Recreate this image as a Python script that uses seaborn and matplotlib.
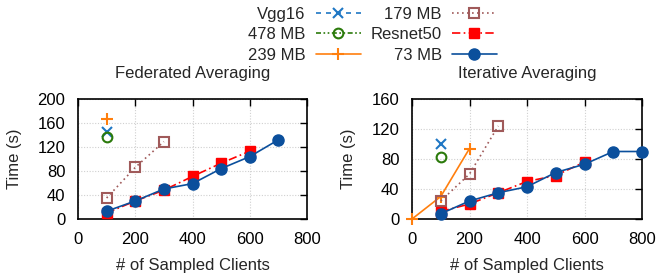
import numpy as np
import pandas as pd
import matplotlib
matplotlib.use("Agg")
import matplotlib.pyplot as plt
import seaborn as sns

sns.set_theme(style="white")
plt.rcParams['font.family'] = ['Liberation Sans', 'DejaVu Sans']

labels = ["Vgg16", "478 MB", "239 MB", "179 MB", "Resnet50", "73 MB"]

# Federated Averaging
fed_x = {
    "Vgg16": [100], "478 MB": [100], "239 MB": [100],
    "179 MB": [100, 200, 300],
    "Resnet50": [100, 200, 300, 400, 500, 600],
    "73 MB": [100, 200, 300, 400, 500, 600, 700],
}
fed_y = {
    "Vgg16": [145], "478 MB": [136], "239 MB": [167],
    "179 MB": [35, 86, 129],
    "Resnet50": [10, 30, 48, 71, 93, 113],
    "73 MB": [13, 30, 50, 59, 84, 104, 132],
}

# Iterative Averaging
it_x = {
    "Vgg16": [100], "478 MB": [100], "239 MB": [0, 100, 200],
    "179 MB": [100, 200, 300],
    "Resnet50": [100, 200, 300, 400, 500, 600],
    "73 MB": [100, 200, 300, 400, 500, 600, 700, 800],
}
it_y = {
    "Vgg16": [100], "478 MB": [83], "239 MB": [0, 30, 94],
    "179 MB": [24, 60, 124],
    "Resnet50": [10, 20, 35, 50, 58, 76],
    "73 MB": [7, 24, 35, 43, 62, 73, 90, 90],
}

styles = {
    "Vgg16": dict(color="#1f77c4", ls=(0, (3, 3)), marker="x", ms=7, mfc="none", mew=1.5),
    "478 MB": dict(color="#2b7a0b", ls=(0, (3, 1.5, 1, 1.5, 1, 1.5)), marker="o", ms=7, mfc="none", mew=1.5),
    "239 MB": dict(color="#ff7f0e", ls="-", marker="+", ms=8, mfc="none", mew=1.5),
    "179 MB": dict(color="#a05a5a", ls=(0, (1, 2)), marker="s", ms=7, mfc="none", mew=1.5),
    "Resnet50": dict(color="#ff0000", ls=(0, (5, 2, 1, 2)), marker="s", ms=7.5, mfc="#ff0000", mew=1),
    "73 MB": dict(color="#0b4f9c", ls="-", marker="o", ms=8, mfc="#0b4f9c", mew=1),
}

fig = plt.figure(figsize=(6.57, 2.78), dpi=100)
ax1 = fig.add_axes([78 / 657, 1 - 219 / 278, 229 / 657, 120 / 278])
ax2 = fig.add_axes([412 / 657, 1 - 219 / 278, 230 / 657, 120 / 278])

panels = [
    (ax1, fed_x, fed_y, "Federated Averaging", 200, 40),
    (ax2, it_x, it_y, "Iterative Averaging", 160, 40),
]

for ax, xs, ys, title, ymax, ystep in panels:
    for name in labels:
        st = styles[name]
        df = pd.DataFrame({"x": xs[name], "y": ys[name]})
        sns.lineplot(data=df, x="x", y="y", ax=ax, sort=False, label=name,
                     color=st["color"], linestyle=st["ls"], linewidth=1.2,
                     marker=st["marker"], markersize=st["ms"],
                     markerfacecolor=st["mfc"], markeredgecolor=st["color"],
                     markeredgewidth=st["mew"], clip_on=False, zorder=3)
    ax.set_xlim(0, 800)
    ax.set_ylim(0, ymax)
    ax.set_xticks(np.arange(0, 801, 200))
    ax.set_yticks(np.arange(0, ymax + 1, ystep))
    ax.grid(True, color="#d0d0d0", linestyle=(0, (1, 1.5)), linewidth=0.8)
    ax.tick_params(direction="in", length=5, width=1, top=True, right=True,
                   labelsize=12, colors="black")
    ax.tick_params(axis="x", pad=9)
    ax.tick_params(axis="y", pad=9)
    for sp in ax.spines.values():
        sp.set_color("black")
        sp.set_linewidth(1.2)
    ax.set_xlabel("# of Sampled Clients", fontsize=12, labelpad=8)
    ax.set_ylabel("Time (s)", fontsize=12, labelpad=11)
    ax.set_title(title, fontsize=12, pad=15)
    ax.get_legend().remove()

handles, lbls = ax1.get_legend_handles_labels()
fig.legend(handles, lbls, ncol=2, markerfirst=False, loc="upper center",
           bbox_to_anchor=(0.567, 1.03), frameon=False, fontsize=12,
           handlelength=2.7, handletextpad=0.6, columnspacing=0.6,
           labelspacing=0.34, numpoints=1)

fig.savefig("out.png", dpi=100)
